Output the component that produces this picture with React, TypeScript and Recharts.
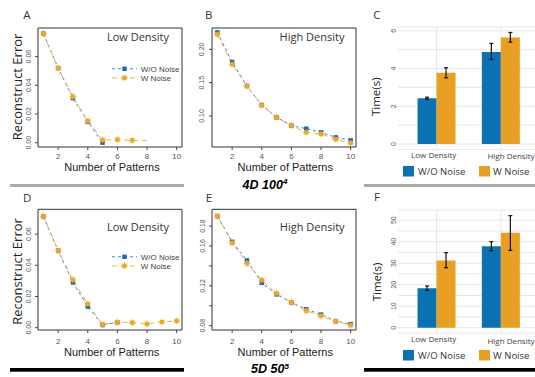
import React from 'react';
import {
  LineChart, Line, XAxis, YAxis, ReferenceArea, BarChart, Bar, ErrorBar,
  CartesianGrid, Legend,
} from 'recharts';

// ---------- data ----------
const patterns = [1, 2, 3, 4, 5, 6, 7, 8, 9, 10];
const patternTicks = [2, 4, 6, 8, 10];
const seriesNames = ['W/O Noise', 'W Noise'];
const densityCategories = ['Low Density', 'High Density'];

// A: 4D 100^4, low density
const low4D_woNoise = [0.076, 0.052, 0.031, 0.0146, 0.0, null, null, null, null, null];
const low4D_wNoise = [0.076, 0.052, 0.032, 0.015, 0.0019, 0.0021, 0.0016, 0.0016, null, null];
const low4D_unmarked = [8];
const low4D_yTicks = [0, 0.02, 0.04, 0.06];

// B: 4D 100^4, high density
const high4D_woNoise = [0.2255, 0.181, 0.145, 0.1165, 0.098, 0.0855, 0.081, 0.0755, 0.068, 0.0635];
const high4D_wNoise = [0.2225, 0.1775, 0.145, 0.116, 0.098, 0.0855, 0.0755, 0.073, 0.065, 0.0595];
const high4D_yTicks = [0.1, 0.15, 0.2];

// C: 4D time
const time4D_woNoise = [2.43, 4.88];
const time4D_woNoiseErr = [[0.05, 0.05], [0.4, 0.45]];
const time4D_wNoise = [3.77, 5.64];
const time4D_wNoiseErr = [[0.26, 0.27], [0.24, 0.27]];
const time4D_yTicks = [0, 1, 2, 3, 4, 5, 6];
const time4D_yLabels = [0, 2, 4, 6];

// D: 5D 50^5, low density
const low5D_woNoise = [0.0714, 0.0494, 0.029, 0.0135, 0.0017, 0.0034, null, null, null, null];
const low5D_wNoise = [0.0714, 0.0494, 0.0306, 0.0152, 0.002, 0.0036, 0.0032, 0.0024, 0.0036, 0.0043];
const low5D_yTicks = [0, 0.02, 0.04, 0.06];

// E: 5D 50^5, high density
const high5D_woNoise = [0.19, 0.1642, 0.1455, 0.123, 0.1114, 0.1033, 0.0966, 0.0912, 0.0845, 0.0817];
const high5D_wNoise = [0.19, 0.163, 0.1425, 0.1257, 0.1124, 0.1033, 0.095, 0.0898, 0.0845, 0.0804];
const high5D_yTicks = [0.08, 0.1, 0.12, 0.14, 0.16, 0.18];
const high5D_yLabels = [0.08, 0.12, 0.16, 0.18];

// F: 5D time
const time5D_woNoise = [18.3, 37.9];
const time5D_woNoiseErr = [[0.9, 1.1], [2.1, 2.1]];
const time5D_wNoise = [31.3, 44.2];
const time5D_wNoiseErr = [[3.4, 3.6], [8.2, 7.9]];
const time5D_yTicks = [0, 5, 10, 15, 20, 25, 30, 35, 40, 45, 50];
const time5D_yLabels = [0, 10, 20, 30, 40, 50];

// ---------- styles ----------
const BLUE = '#0C71B3';
const ORANGE = '#E8A024';
const BLUE_LINE = '#3C8AC8';
const ORANGE_LINE = '#F0B440';
const BLUE_MARK = '#1767AC';
const ORANGE_MARK = '#EFA62C';
const SANS = "'Open Sans', 'Noto Sans', sans-serif";
const TICKF = "'Liberation Sans', Arial, sans-serif";

const buildLineRows = (wo: (number | null)[], w: (number | null)[]) =>
  patterns.map((n, i) => ({ n, wo: wo[i], w: w[i] }));

const buildBarRows = (wo: number[], woErr: number[][], w: number[], wErr: number[][]) =>
  densityCategories.map((cat, i) => ({ cat, wo: wo[i], woErr: woErr[i], w: w[i], wErr: wErr[i] }));

const ok = (v: any) => typeof v === 'number' && isFinite(v);

const SquareMark = ({ cx, cy }: { cx: number; cy: number }) => (
  <rect x={cx - 2.2} y={cy - 2.2} width={4.4} height={4.4} fill={BLUE_MARK} />
);
const StarMark = ({ cx, cy }: { cx: number; cy: number }) => (
  <g>
    <circle cx={cx} cy={cy} r={2.4} fill={ORANGE_MARK} />
    <path
      d={`M${cx - 3.4},${cy}H${cx + 3.4}M${cx},${cy - 3.4}V${cy + 3.4}M${cx - 2.5},${cy - 2.5}L${cx + 2.5},${cy + 2.5}M${cx - 2.5},${cy + 2.5}L${cx + 2.5},${cy - 2.5}`}
      stroke={ORANGE_MARK}
      strokeWidth={1}
      strokeOpacity={0.8}
    />
  </g>
);

const makeSquareDot = () => (props: any) => {
  const { cx, cy, index } = props;
  if (!ok(cx) || !ok(cy) || !ok(props.value)) return <g key={`sq${index}`} />;
  return <g key={`sq${index}`}><SquareMark cx={cx} cy={cy} /></g>;
};
const makeStarDot = (unmarked: number[]) => (props: any) => {
  const { cx, cy, index, payload } = props;
  if (!ok(cx) || !ok(cy) || !ok(props.value) || (payload && unmarked.includes(payload.n)))
    return <g key={`st${index}`} />;
  return <g key={`st${index}`}><StarMark cx={cx} cy={cy} /></g>;
};

const makeXTick = (labelY: number) => (props: any) => {
  const { x, payload } = props;
  return (
    <text x={x} y={labelY} textAnchor="middle" fontSize={8} fontFamily={TICKF} fill="#555">
      {payload.value}
    </text>
  );
};
const makeYTick = (labelX: number, labeled: number[], digits: number, size = 7) => (props: any) => {
  const { y, payload } = props;
  const v = payload.value;
  if (!labeled.some((l) => Math.abs(l - v) < 1e-9)) return <g />;
  return (
    <text
      x={labelX}
      y={y}
      transform={`rotate(-90 ${labelX} ${y})`}
      textAnchor="middle"
      fontSize={size}
      fontFamily={TICKF}
      fill="#555"
    >
      {v.toFixed(digits)}
    </text>
  );
};

const LineLegendContent = () => (
  <svg width={72} height={18} style={{ display: 'block', overflow: 'visible' }}>
    <line x1={0} x2={25} y1={3.8} y2={3.8} stroke={BLUE_LINE} strokeWidth={1} strokeDasharray="3 3" />
    <SquareMark cx={12.5} cy={3.8} />
    <text x={28.7} y={6.7} fontSize={8} fontFamily={TICKF} fill="#444">{seriesNames[0]}</text>
    <line x1={0} x2={25} y1={12.9} y2={12.9} stroke={ORANGE_LINE} strokeWidth={1} strokeDasharray="5 4" />
    <StarMark cx={12.5} cy={12.9} />
    <text x={28.7} y={15.8} fontSize={8} fontFamily={TICKF} fill="#444">{seriesNames[1]}</text>
  </svg>
);

const BarLegendContent = () => (
  <svg width={135} height={12} style={{ display: 'block', overflow: 'visible' }}>
    <rect x={0} y={0} width={11} height={10.5} fill={BLUE} />
    <text x={15} y={9} fontSize={9.5} fontFamily={SANS} fill="#333">{seriesNames[0]}</text>
    <rect x={76} y={0} width={11} height={10.5} fill={ORANGE} />
    <text x={90} y={9} fontSize={9.5} fontFamily={SANS} fill="#333">{seriesNames[1]}</text>
  </svg>
);

type LinePanelProps = {
  left: number; top: number; width: number; height: number;
  marginTop: number; yAxisWidth: number;
  yDomain: [number, number]; yTicks: number[]; yLabels: number[]; digits: number;
  wo: (number | null)[]; w: (number | null)[]; unmarked?: number[];
  yTickX: number; xTickY: number; legendTop?: number;
};

const X_DOMAIN: [number, number] = [0.64, 10.36];

const LinePanel = (p: LinePanelProps) => {
  const data = buildLineRows(p.wo, p.w);
  return (
    <div style={{ position: 'absolute', left: p.left, top: p.top }}>
      <LineChart
        width={p.width}
        height={p.height}
        data={data}
        margin={{ top: p.marginTop, right: 2, bottom: 0, left: 0 }}
      >
        <XAxis
          type="number"
          dataKey="n"
          domain={X_DOMAIN}
          ticks={patternTicks}
          allowDataOverflow
          interval={0}
          axisLine={false}
          tickSize={3}
          tickLine={{ stroke: '#444' }}
          height={30}
          tick={makeXTick(p.xTickY)}
        />
        <YAxis
          type="number"
          domain={p.yDomain}
          ticks={p.yTicks}
          allowDataOverflow
          interval={0}
          axisLine={false}
          tickSize={3}
          tickLine={{ stroke: '#444' }}
          width={p.yAxisWidth}
          tick={makeYTick(p.yTickX, p.yLabels, p.digits)}
        />
        <ReferenceArea
          x1={X_DOMAIN[0]}
          x2={X_DOMAIN[1]}
          y1={p.yDomain[0]}
          y2={p.yDomain[1]}
          fill="none"
          fillOpacity={0}
          stroke="#333"
          strokeWidth={1}
          ifOverflow="visible"
        />
        <Line
          dataKey="wo"
          name={seriesNames[0]}
          stroke={BLUE_LINE}
          strokeWidth={1}
          strokeDasharray="3 3"
          dot={makeSquareDot()}
          activeDot={false}
          isAnimationActive={false}
        />
        <Line
          dataKey="w"
          name={seriesNames[1]}
          stroke={ORANGE_LINE}
          strokeWidth={1}
          strokeDasharray="5 4"
          dot={makeStarDot(p.unmarked || [])}
          activeDot={false}
          isAnimationActive={false}
        />
        {p.legendTop !== undefined && (
          <Legend
            layout="horizontal"
            verticalAlign="middle"
            align="center"
            content={() => <LineLegendContent />}
            wrapperStyle={{ position: 'absolute', left: 112, top: p.legendTop, width: 72, height: 18, lineHeight: 0 }}
          />
        )}
      </LineChart>
    </div>
  );
};

type BarPanelProps = {
  left: number; top: number; height: number; marginTop: number; xAxisHeight: number;
  yDomain: [number, number]; yTicks: number[]; yLabels: number[];
  wo: number[]; woErr: number[][]; w: number[]; wErr: number[][];
  catLabelY: number[]; legendTop: number;
};

const catLabelDx = [-3, 10];
const CAT_PAD = { left: 6.55, right: 1.85 };

const BarPanel = (p: BarPanelProps) => {
  const data = buildBarRows(p.wo, p.woErr, p.w, p.wErr);
  const catTick = (props: any) => {
    const { x, index, payload } = props;
    return (
      <text
        x={x + catLabelDx[index]}
        y={p.catLabelY[index]}
        textAnchor="middle"
        fontSize={8}
        fontFamily={SANS}
        fill="#444"
      >
        {payload.value}
      </text>
    );
  };
  return (
    <div style={{ position: 'absolute', left: p.left, top: p.top }}>
      <BarChart
        width={180}
        height={p.height}
        data={data}
        margin={{ top: p.marginTop, right: 0, bottom: 0, left: 0 }}
        barGap={0}
      >
        <CartesianGrid
          stroke="#e4e4e4"
          strokeWidth={0.9}
          verticalCoordinatesGenerator={(args: any) => {
            const off = args && args.offset;
            if (!off || !ok(off.left) || !ok(off.width)) return [];
            const n = densityCategories.length;
            const band = (off.width - CAT_PAD.left - CAT_PAD.right) / n;
            return densityCategories.map((_, i) => off.left + CAT_PAD.left + band * (i + 0.5));
          }}
        />
        <XAxis
          dataKey="cat"
          type="category"
          padding={CAT_PAD}
          axisLine={false}
          tickLine={false}
          height={p.xAxisHeight}
          interval={0}
          tick={catTick}
        />
        <YAxis
          type="number"
          domain={p.yDomain}
          ticks={p.yTicks}
          allowDataOverflow
          interval={0}
          axisLine={false}
          tickLine={false}
          tickSize={0}
          width={43}
          tick={makeYTick(41.5, p.yLabels, 0)}
        />
        <Bar dataKey="wo" name={seriesNames[0]} fill={BLUE} barSize={19} isAnimationActive={false}>
          <ErrorBar dataKey="woErr" width={2} stroke="#111" strokeWidth={1.2} />
        </Bar>
        <Bar dataKey="w" name={seriesNames[1]} fill={ORANGE} barSize={19} isAnimationActive={false}>
          <ErrorBar dataKey="wErr" width={2} stroke="#111" strokeWidth={1.2} />
        </Bar>
        <Legend
          layout="horizontal"
          verticalAlign="middle"
          align="center"
          content={() => <BarLegendContent />}
          wrapperStyle={{ position: 'absolute', left: 48, top: p.legendTop, width: 135, height: 12, lineHeight: 0 }}
        />
      </BarChart>
    </div>
  );
};

const Overlay = () => {
  const letter = (t: string, x: number, y: number) => (
    <text x={x} y={y} fontSize={11.5} fontFamily={SANS} fill="#333">{t}</text>
  );
  const yLabel = (t: string, x: number, y: number, size: number) => (
    <text x={x} y={y} transform={`rotate(-90 ${x} ${y})`} textAnchor="middle" fontSize={size} fontFamily={SANS} fill="#222">{t}</text>
  );
  const xLabel = (t: string, x: number, y: number) => (
    <text x={x} y={y} textAnchor="middle" fontSize={11} fontFamily={TICKF} fill="#222">{t}</text>
  );
  const inner = (t: string, x: number, y: number) => (
    <text x={x} y={y} textAnchor="middle" fontSize={11} fontFamily={SANS} fill="#333">{t}</text>
  );
  return (
    <svg width={535} height={377} style={{ position: 'absolute', left: 0, top: 0, pointerEvents: 'none' }}>
      {letter('A', 23.3, 19)}
      {letter('B', 205, 19)}
      {letter('C', 373.3, 18.7)}
      {letter('D', 23, 202.3)}
      {letter('E', 205.7, 202)}
      {letter('F', 374, 201)}

      {yLabel('Reconstruct Error', 21.8, 87, 13)}
      {yLabel('Reconstruct Error', 22, 271.5, 13)}
      {yLabel('Time(s)', 380.5, 96.7, 11.5)}
      {yLabel('Time(s)', 380.5, 282, 11.5)}

      {xLabel('Number of Patterns', 112, 171)}
      {xLabel('Number of Patterns', 285.3, 171)}
      {xLabel('Number of Patterns', 111.7, 355.5)}
      {xLabel('Number of Patterns', 285.3, 355.5)}

      {inner('Low Density', 138, 41.2)}
      {inner('High Density', 312, 41.3)}
      {inner('Low Density', 138, 230.5)}
      {inner('High Density', 312.2, 230.5)}

      <rect x={10} y={184} width={174} height={3} fill="#aaaaaa" />
      <rect x={364} y={184} width={171} height={3} fill="#aaaaaa" />
      <rect x={10} y={368} width={174} height={3.7} fill="#000" />
      <rect x={364} y={368} width={171} height={3.7} fill="#000" />

      <text x={265} y={188.5} textAnchor="middle" fontSize={12.5} fontWeight="bold" fontStyle="italic" fontFamily={TICKF} fill="#000">
        4D 100<tspan dy={-4.5} fontSize={8}>4</tspan>
      </text>
      <text x={270} y={373.3} textAnchor="middle" fontSize={12.5} fontWeight="bold" fontStyle="italic" fontFamily={TICKF} fill="#000">
        5D 50<tspan dy={-4.5} fontSize={8}>5</tspan>
      </text>
    </svg>
  );
};

export default function App() {
  return (
    <div style={{ position: 'absolute', left: 0, top: 0, width: 535, height: 377, overflow: 'hidden', background: '#fff' }}>
      <LinePanel
        left={0} top={0} width={184} height={177} marginTop={28} yAxisWidth={38}
        yDomain={[-0.003, 0.0799]} yTicks={low4D_yTicks} yLabels={low4D_yTicks} digits={2}
        wo={low4D_woNoise} w={low4D_wNoise} unmarked={low4D_unmarked}
        yTickX={31.5} xTickY={159} legendTop={64.5}
      />
      <LinePanel
        left={170} top={0} width={188} height={177} marginTop={28} yAxisWidth={42}
        yDomain={[0.0535, 0.232]} yTicks={high4D_yTicks} yLabels={high4D_yTicks} digits={2}
        wo={high4D_woNoise} w={high4D_wNoise}
        yTickX={34} xTickY={159}
      />
      <LinePanel
        left={0} top={180} width={184} height={180} marginTop={29.3} yAxisWidth={38}
        yDomain={[-0.0015, 0.0759]} yTicks={low5D_yTicks} yLabels={low5D_yTicks} digits={2}
        wo={low5D_woNoise} w={low5D_wNoise}
        yTickX={31.5} xTickY={163.5} legendTop={72.9}
      />
      <LinePanel
        left={170} top={180} width={188} height={180} marginTop={29.3} yAxisWidth={42}
        yDomain={[0.0757, 0.1968]} yTicks={high5D_yTicks} yLabels={high5D_yLabels} digits={2}
        wo={high5D_woNoise} w={high5D_wNoise}
        yTickX={34.8} xTickY={163.5}
      />
      <BarPanel
        left={355} top={0} height={180} marginTop={27} xAxisHeight={30.3}
        yDomain={[-0.3, 6.2]} yTicks={time4D_yTicks} yLabels={time4D_yLabels}
        wo={time4D_woNoise} woErr={time4D_woNoiseErr} w={time4D_wNoise} wErr={time4D_wNoiseErr}
        catLabelY={[157.5, 159]} legendTop={165.7}
      />
      <BarPanel
        left={355} top={180} height={185} marginTop={30.1} xAxisHeight={31.7}
        yDomain={[-2.6, 54.7]} yTicks={time5D_yTicks} yLabels={time5D_yLabels}
        wo={time5D_woNoise} woErr={time5D_woNoiseErr} w={time5D_wNoise} wErr={time5D_wNoiseErr}
        catLabelY={[162, 163.7]} legendTop={170}
      />
      <Overlay />
    </div>
  );
}
